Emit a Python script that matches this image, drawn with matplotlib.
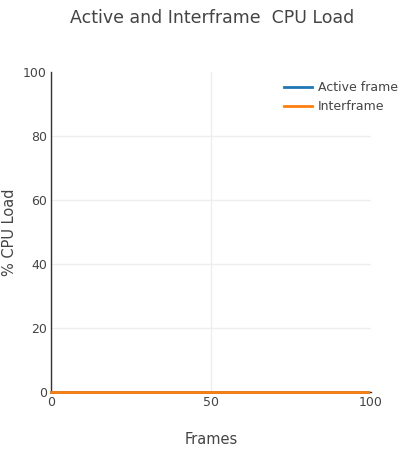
import numpy as np
import matplotlib
matplotlib.use("Agg")
import matplotlib.pyplot as plt

frames = np.arange(0, 100)
active_load = np.zeros(len(frames))
interframe_load = np.zeros(len(frames))

x_ticks = [0, 50, 100]
y_ticks = [0, 20, 40, 60, 80, 100]

text_color = '#444444'
grid_color = '#eeeeee'

plt.rcParams['font.family'] = ['DejaVu Sans']

fig = plt.figure(figsize=(4.11, 4.57), dpi=100)
ax = fig.add_axes([51 / 411, 65 / 457, 320 / 411, 320 / 457])

ax.plot(frames, active_load, color='#1f77b4', linewidth=2, label='Active frame', clip_on=False, zorder=3)
ax.plot(frames, interframe_load, color='#ff7f0e', linewidth=2, label='Interframe', clip_on=False, zorder=4)

ax.set_xlim(0, 100)
ax.set_ylim(0, 100)
ax.set_xticks(x_ticks)
ax.set_yticks(y_ticks)
ax.tick_params(length=0, labelsize=9, labelcolor=text_color, pad=3)
ax.grid(True, color=grid_color, linewidth=1)
ax.set_axisbelow(True)
# no gridlines on the outer edges
ax.get_xgridlines()[-1].set_visible(False)
ax.get_ygridlines()[-1].set_visible(False)

for side in ['top', 'right']:
    ax.spines[side].set_visible(False)
for side in ['left', 'bottom']:
    ax.spines[side].set_color('#333333')
    ax.spines[side].set_linewidth(1)

ax.set_xlabel('Frames', fontsize=10.5, color=text_color)
ax.xaxis.set_label_coords(0.5, -47 / 320)
ax.xaxis.label.set_va('center')
ax.set_ylabel('% CPU Load', fontsize=10.5, color=text_color)
ax.yaxis.set_label_coords(-41 / 320, 0.5)
ax.yaxis.label.set_va('center')

fig.text(212 / 411, 1 - 18 / 457, 'Active and Interframe  CPU Load', ha='center', va='center',
         fontsize=12.5, color=text_color)

leg = ax.legend(loc='upper left', bbox_to_anchor=(224 / 320, 1.0), frameon=False, fontsize=9,
                handlelength=2.2, handletextpad=0.5, labelspacing=0.45, borderpad=0.25)
for t in leg.get_texts():
    t.set_color(text_color)

fig.savefig('out.png', dpi=100)
